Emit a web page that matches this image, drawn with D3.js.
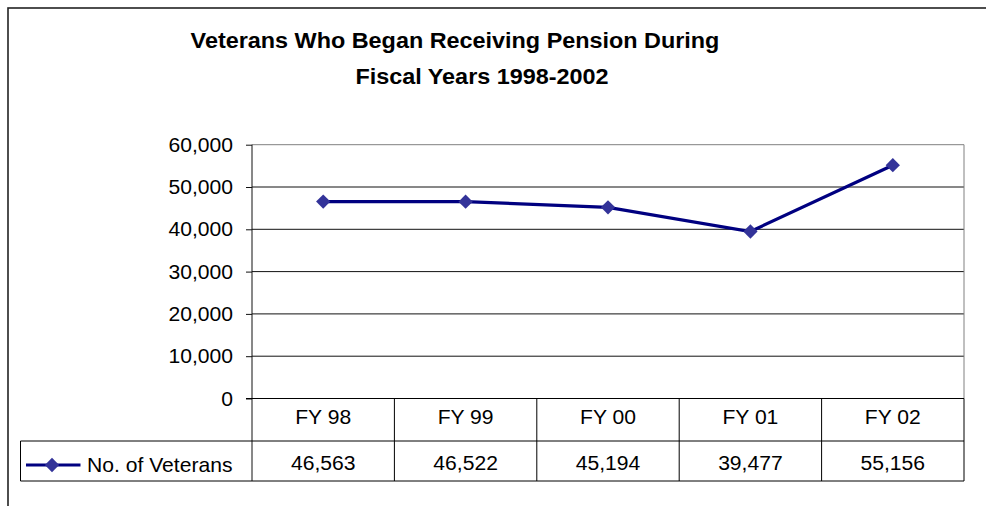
<!DOCTYPE html>
<html>
<head>
<meta charset="utf-8">
<script src="https://cdn.jsdelivr.net/npm/d3@7"></script>
<style>
  body { margin: 0; background: #fff; }
  svg { display: block; font-family: "Liberation Sans", Arial, sans-serif; }
</style>
</head>
<body>
<svg width="986" height="506"></svg>
<script>
const categories = ['FY 98', 'FY 99', 'FY 00', 'FY 01', 'FY 02'];
const veterans = [46563, 46522, 45194, 39477, 55156];
const yTicks = [0, 10000, 20000, 30000, 40000, 50000, 60000];
const seriesName = 'No. of Veterans';
const titleLines = ['Veterans Who Began Receiving Pension During', 'Fiscal Years 1998-2002'];

const svg = d3.select('svg');
const fmt = d3.format(',');
// the original text is a touch wider than Arial at its height
const stretch = 1.03;
const bodySize = 20.5;

// place a text with a slight horizontal stretch
function label(g, tx, ty, str, opts) {
  opts = opts || {};
  return g.append('text')
    .attr('transform', `translate(${tx},${ty}) scale(${opts.sx || stretch},1)`)
    .attr('text-anchor', opts.anchor || 'middle')
    .attr('font-size', opts.size || bodySize)
    .attr('font-weight', opts.weight || 'normal')
    .attr('fill', '#000')
    .text(str);
}

// outer chart frame (cut off on right and bottom)
svg.append('rect')
  .attr('x', 8).attr('y', 8)
  .attr('width', 1000).attr('height', 520)
  .attr('fill', 'none')
  .attr('stroke', '#222')
  .attr('stroke-width', 1.6);

// title
label(svg, 455, 48.3, titleLines[0], {size: 22.5, weight: 'bold', sx: 1.04});
label(svg, 482, 83.5, titleLines[1], {size: 22.5, weight: 'bold', sx: 1.04});

const x = d3.scaleBand()
  .domain(categories)
  .range([252, 964]);
const y = d3.scaleLinear()
  .domain([0, 60000])
  .range([398.5, 144.7]);

const row2 = [441, 481];

// gridlines
svg.append('g')
  .selectAll('line')
  .data(yTicks.filter(d => d > 0))
  .enter()
  .append('line')
  .attr('x1', 252).attr('x2', 964)
  .attr('y1', d => y(d)).attr('y2', d => y(d))
  .attr('stroke', d => d === 60000 ? '#808080' : '#111')
  .attr('stroke-width', 1);

// plot area right border (gray)
svg.append('line')
  .attr('x1', 964).attr('x2', 964)
  .attr('y1', y(60000)).attr('y2', y(0))
  .attr('stroke', '#808080');

// y axis
const yAxis = d3.axisLeft(y)
  .tickValues(yTicks)
  .tickSize(6)
  .tickPadding(13)
  .tickFormat(fmt);
const gy = svg.append('g')
  .attr('transform', 'translate(252,0)')
  .call(yAxis);
gy.select('.domain').remove();
gy.selectAll('.tick line').attr('stroke', '#111');
gy.selectAll('.tick text')
  .attr('x', -19 / stretch)
  .attr('transform', `scale(${stretch},1)`)
  .attr('font-size', bodySize)
  .attr('font-family', '"Liberation Sans", Arial, sans-serif')
  .attr('fill', '#000');
svg.append('line')
  .attr('x1', 252).attr('x2', 252)
  .attr('y1', y(60000)).attr('y2', row2[1])
  .attr('stroke', '#111');

// data table
const table = svg.append('g');
table.append('line')
  .attr('x1', 246).attr('x2', 964)
  .attr('y1', y(0)).attr('y2', y(0))
  .attr('stroke', '#000');
row2.forEach(yy => {
  table.append('line')
    .attr('x1', 20.5).attr('x2', 964)
    .attr('y1', yy).attr('y2', yy)
    .attr('stroke', '#000');
});
table.append('line')
  .attr('x1', 20.5).attr('x2', 20.5)
  .attr('y1', row2[0]).attr('y2', row2[1])
  .attr('stroke', '#000');
table.selectAll('.col')
  .data(categories)
  .enter()
  .append('line')
  .attr('class', 'col')
  .attr('x1', d => x(d) + x.bandwidth()).attr('x2', d => x(d) + x.bandwidth())
  .attr('y1', y(0)).attr('y2', row2[1])
  .attr('stroke', '#000');

categories.forEach(c => {
  label(table, x(c) + x.bandwidth() / 2, 424, c);
});
veterans.forEach((v, i) => {
  label(table, x(categories[i]) + x.bandwidth() / 2, 469.5, fmt(v));
});

// legend key in table
const diamond = d3.symbol().type(d3.symbolDiamond2).size(130);
table.append('line')
  .attr('x1', 26).attr('x2', 80.5)
  .attr('y1', 465).attr('y2', 465)
  .attr('stroke', '#000080')
  .attr('stroke-width', 3);
table.append('path')
  .attr('d', diamond())
  .attr('transform', 'translate(52,465)')
  .attr('fill', '#333399');
label(table, 87, 472, seriesName, {anchor: 'start'});

// series
const line = d3.line()
  .x((d, i) => x(categories[i]) + x.bandwidth() / 2)
  .y(d => y(d));
svg.append('path')
  .datum(veterans)
  .attr('d', line)
  .attr('fill', 'none')
  .attr('stroke', '#000080')
  .attr('stroke-width', 3.2);
svg.selectAll('.pt')
  .data(veterans)
  .enter()
  .append('path')
  .attr('d', diamond())
  .attr('transform', (d, i) => `translate(${x(categories[i]) + x.bandwidth() / 2},${y(d)})`)
  .attr('fill', '#333399');
</script>
</body>
</html>
